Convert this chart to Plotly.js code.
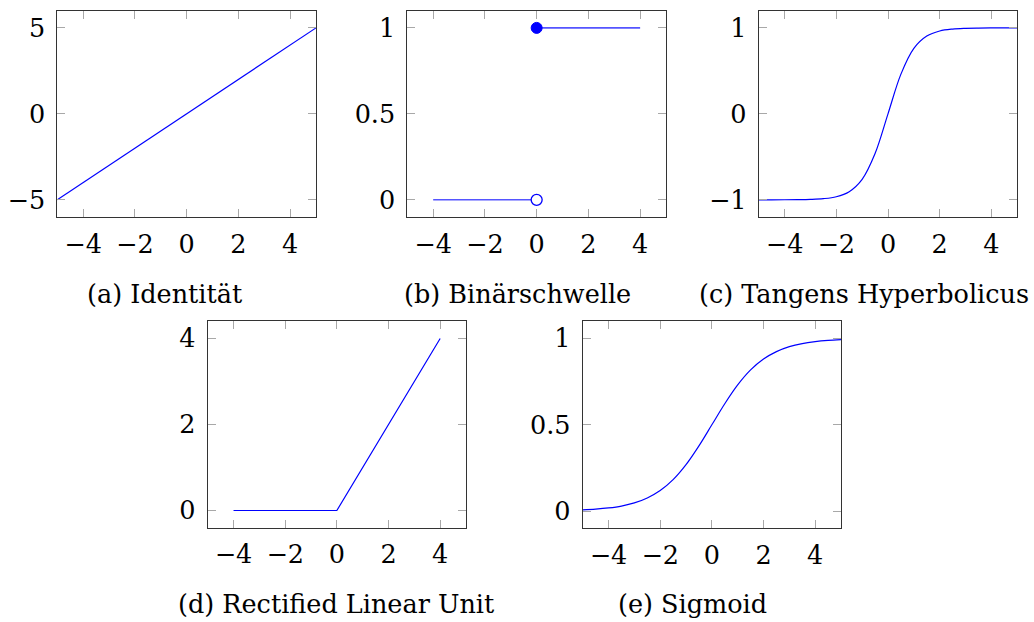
<!DOCTYPE html>
<html><head><meta charset="utf-8">
<script src="https://cdn.plot.ly/plotly-3.0.1.min.js"></script>
<style>html,body{margin:0;padding:0;background:#fff}#chart{width:1034px;height:622px}</style>
</head><body><div id="chart"></div>
<script>
// ---- data ----
const identityX = [-5, 5];
const identityY = [-5, 5];

const stepLowX = [-4, 0];
const stepLowY = [0, 0];
const stepHighX = [0, 4];
const stepHighY = [1, 1];
const stepOpenX = [0];
const stepOpenY = [0];
const stepFilledX = [0];
const stepFilledY = [1];

const tanhX = [-5, -4.5, -4, -3.5, -3, -2.5, -2, -1.5, -1, -0.5, 0, 0.5, 1, 1.5, 2, 2.5, 3, 3.5, 4, 4.5, 5];
const tanhY = [-0.9999, -0.9998, -0.9993, -0.9982, -0.9951, -0.9866, -0.964, -0.905, -0.762, -0.462, 0, 0.462, 0.762, 0.905, 0.964, 0.9866, 0.9951, 0.9982, 0.9993, 0.9998, 0.9999];

const reluX = [-4, 0, 4];
const reluY = [0, 0, 4];

const sigX = [-5, -4.5, -4, -3.5, -3, -2.5, -2, -1.5, -1, -0.5, 0, 0.5, 1, 1.5, 2, 2.5, 3, 3.5, 4, 4.5, 5];
const sigY = [0.0067, 0.011, 0.018, 0.029, 0.047, 0.076, 0.119, 0.182, 0.269, 0.378, 0.5, 0.622, 0.731, 0.818, 0.881, 0.924, 0.953, 0.971, 0.982, 0.989, 0.9933];

const xTickVals = [-4, -2, 0, 2, 4];
const xTickText = ['\u22124', '\u22122', '0', '2', '4'];
const yTickValsA = [-5, 0, 5];
const yTickTextA = ['\u22125', '0', '5'];
const yTickValsB = [0, 0.5, 1];
const yTickTextB = ['0', '0.5', '1'];
const yTickValsC = [-1, 0, 1];
const yTickTextC = ['\u22121', '0', '1'];
const yTickValsD = [0, 2, 4];
const yTickTextD = ['0', '2', '4'];
const yTickValsE = [0, 0.5, 1];
const yTickTextE = ['0', '0.5', '1'];

const captions = ['(a) Identität', '(b) Binärschwelle', '(c) Tangens Hyperbolicus', '(d) Rectified Linear Unit', '(e) Sigmoid'];

// ---- styling ----
const W = 1034, H = 622;
const FONT = 'DejaVu Serif';
const FS = 25.5;
const BLUE = '#0000ff';
const STEPBLUE = '#5555ff';

function xd(l, r) { return [l / W, r / W]; }
function yd(t, b) { return [1 - b / H, 1 - t / H]; }

function axis(domain, range, tv, tt, anchor, standoff) {
  return {
    domain: domain, range: range, anchor: anchor,
    tickmode: 'array', tickvals: tv, ticktext: tt,
    ticks: 'inside', ticklen: 8, tickwidth: 1, tickcolor: '#a8a8a8',
    mirror: 'allticks', showline: true, linecolor: '#333', linewidth: 1,
    showgrid: false, zeroline: false, fixedrange: true,
    ticklabelstandoff: standoff,
    tickfont: { family: FONT, size: FS, color: '#000' }
  };
}

const line = (x, y, xa, ya, color, w, shape) => ({
  x: x, y: y, xaxis: xa, yaxis: ya, type: 'scatter', mode: 'lines',
  line: { color: color, width: w, shape: shape || 'linear', smoothing: 1 },
  hoverinfo: 'skip', showlegend: false
});

const traces = [
  line(identityX, identityY, 'x', 'y', BLUE, 1.2),
  line(stepLowX, stepLowY, 'x2', 'y2', STEPBLUE, 1.6),
  line(stepHighX, stepHighY, 'x2', 'y2', STEPBLUE, 1.6),
  { x: stepOpenX, y: stepOpenY, xaxis: 'x2', yaxis: 'y2', type: 'scatter', mode: 'markers',
    marker: { symbol: 'circle', size: 11, color: '#ffffff', line: { color: BLUE, width: 1.3 } },
    hoverinfo: 'skip', showlegend: false, cliponaxis: false },
  { x: stepFilledX, y: stepFilledY, xaxis: 'x2', yaxis: 'y2', type: 'scatter', mode: 'markers',
    marker: { symbol: 'circle', size: 11, color: BLUE, line: { color: BLUE, width: 1 } },
    hoverinfo: 'skip', showlegend: false, cliponaxis: false },
  line(tanhX, tanhY, 'x3', 'y3', BLUE, 1.2, 'spline'),
  line(reluX, reluY, 'x4', 'y4', BLUE, 1.2),
  line(sigX, sigY, 'x5', 'y5', BLUE, 1.2, 'spline')
];

const capPos = [[165, 294], [517, 294], [864, 294], [336, 604], [692, 604]];
const XS = 4, YS = 6;

const layout = {
  width: W, height: H,
  margin: { l: 0, r: 0, t: 0, b: 0 },
  paper_bgcolor: '#fff', plot_bgcolor: '#fff',
  showlegend: false,
  xaxis: axis(xd(57.3, 316), [-5, 5], xTickVals, xTickText, 'y', XS),
  yaxis: axis(yd(10.7, 217), [-6, 6], yTickValsA, yTickTextA, 'x', YS),
  xaxis2: axis(xd(407.3, 666), [-5, 5], xTickVals, xTickText, 'y2', XS),
  yaxis2: axis(yd(10.7, 217), [-0.1, 1.1], yTickValsB, yTickTextB, 'x2', YS),
  xaxis3: axis(xd(758.7, 1017.3), [-5, 5], xTickVals, xTickText, 'y3', XS),
  yaxis3: axis(yd(10.7, 217), [-1.2, 1.2], yTickValsC, yTickTextC, 'x3', YS),
  xaxis4: axis(xd(207.7, 466), [-5, 5], xTickVals, xTickText, 'y4', XS),
  yaxis4: axis(yd(321.3, 527.7), [-0.4, 4.4], yTickValsD, yTickTextD, 'x4', YS),
  xaxis5: axis(xd(582.7, 841), [-5, 5], xTickVals, xTickText, 'y5', XS),
  yaxis5: axis(yd(321.3, 528.3), [-0.1, 1.1], yTickValsE, yTickTextE, 'x5', YS),
  annotations: captions.map((t, i) => ({
    text: t, xref: 'paper', yref: 'paper',
    x: capPos[i][0] / W, y: 1 - capPos[i][1] / H,
    xanchor: 'center', yanchor: 'middle', showarrow: false,
    font: { family: FONT, size: FS, color: '#000' }
  }))
};

Plotly.newPlot('chart', traces, layout, { displayModeBar: false, staticPlot: true });
</script>
</body></html>
